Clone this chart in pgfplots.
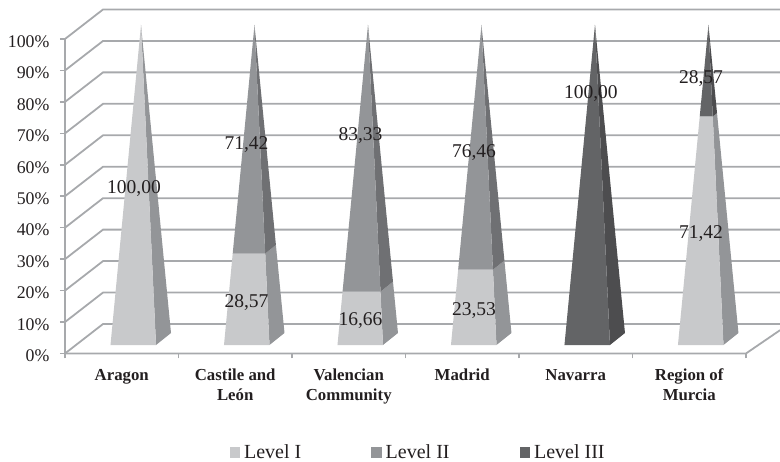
\documentclass[border=0pt]{standalone}
\usepackage{fontspec}
\setmainfont{Liberation Serif}
\usepackage{pgfplots}
\pgfplotsset{compat=1.18}

\definecolor{gridc}{HTML}{A7A9AC}
\definecolor{txt}{HTML}{231F20}
\definecolor{lOne}{HTML}{C8C9CB}
\definecolor{lOneS}{HTML}{939598}
\definecolor{lTwo}{HTML}{939598}
\definecolor{lTwoS}{HTML}{6F7073}
\definecolor{lThree}{HTML}{636466}
\definecolor{lThreeS}{HTML}{4D4D4F}

% one slice of a pyramid: category band, from %, to %, front colour, side colour
\newcommand{\pyr}[5]{%
  \pgfmathsetmacro\apx{#1+0.6696}%
  \pgfmathsetmacro\sLo{1-#2/100}%
  \pgfmathsetmacro\sHi{1-#3/100}%
  \pgfmathsetmacro\flLo{\apx-0.2687*\sLo}%
  \pgfmathsetmacro\flHi{\apx-0.2687*\sHi}%
  \pgfmathsetmacro\frLo{\apx+0.1322*\sLo}%
  \pgfmathsetmacro\frHi{\apx+0.1322*\sHi}%
  \pgfmathsetmacro\brLo{\apx+0.2644*\sLo}%
  \pgfmathsetmacro\brHi{\apx+0.2644*\sHi}%
  \pgfmathsetmacro\yLo{2.70+1.0175*#2}%
  \pgfmathsetmacro\yHi{2.70+1.0175*#3}%
  \pgfmathsetmacro\ybLo{\yLo+3.816*\sLo}%
  \pgfmathsetmacro\ybHi{\yHi+3.816*\sHi}%
  \addplot[fill=#5,draw=none,forget plot] coordinates {(\frLo,\yLo) (\brLo,\ybLo) (\brHi,\ybHi) (\frHi,\yHi)};
  \addplot[fill=#4,draw=none,forget plot] coordinates {(\flLo,\yLo) (\frLo,\yLo) (\frHi,\yHi) (\flHi,\yHi)};
}

\begin{document}
\begin{tikzpicture}[x=1pt,y=1pt]
\useasboundingbox (0,0) rectangle (780,462);
\begin{axis}[
  at={(65pt,108.5pt)}, anchor=south west,
  scale only axis, width=715pt, height=345.95pt,
  xmin=0, xmax=6.3, ymin=0, ymax=110,
  clip=false,
  axis line style={draw=none},
  tick align=outside,
  xtick pos=bottom, ytick pos=left,
  xtick={0.5,1.5,2.5,3.5,4.5,5.5},
  xticklabels={Aragon,Castile and\\León,Valencian\\Community,Madrid,Navarra,Region of\\Murcia},
  minor xtick={0,1,2,3,4,5,6},
  major x tick style={draw=none},
  minor tick length=5pt,
  minor x tick style={gridc,line width=1.6pt},
  ytick={0,10,...,100},
  yticklabels={0\%,10\%,20\%,30\%,40\%,50\%,60\%,70\%,80\%,90\%,100\%},
  major tick length=5pt,
  y tick style={gridc,line width=1.6pt},
  yticklabel style={font=\fontsize{17.8}{20}\selectfont,text=txt,xshift=-7pt,yshift=-2.5pt},
  xticklabel style={font=\fontsize{16.8}{19.7}\selectfont\bfseries,text=txt,align=center,anchor=north,yshift=-7pt},
  legend style={at={(0.4938,-0.2865)},anchor=center,draw=none,fill=none,
    font=\fontsize{20}{22}\selectfont,text=txt,inner sep=0pt,
    /tikz/every even column/.append style={column sep=68pt}},
  legend columns=3,
  legend image code/.code={\fill[#1] (0pt,-5.5pt) rectangle (10.5pt,5.5pt); \path (12.5pt,0pt);},
]
\addlegendimage{fill=lOne,draw=none}
\addlegendimage{fill=lTwo,draw=none}
\addlegendimage{fill=lThree,draw=none}

% walls
\pgfplotsinvokeforeach{0,10,...,100}{
  \pgfmathsetmacro\bk{#1+9.38}
  \addplot[gridc,line width=1.8pt,forget plot] coordinates {(0,#1) (0.335,\bk) (6.3,\bk)};
}
\addplot[gridc,line width=1.8pt,forget plot] coordinates {(0,100) (0,0) (6,0) (6.3,7.4)};

% Aragon
\pyr{0}{0}{100}{lOne}{lOneS}
% Castile and Leon
\pyr{1}{0}{28.57}{lOne}{lOneS}
\pyr{1}{28.57}{100}{lTwo}{lTwoS}
% Valencian Community
\pyr{2}{0}{16.66}{lOne}{lOneS}
\pyr{2}{16.66}{100}{lTwo}{lTwoS}
% Madrid
\pyr{3}{0}{23.53}{lOne}{lOneS}
\pyr{3}{23.53}{100}{lTwo}{lTwoS}
% Navarra
\pyr{4}{0}{100}{lThree}{lThreeS}
% Region of Murcia
\pyr{5}{0}{71.42}{lOne}{lOneS}
\pyr{5}{71.42}{100}{lThree}{lThreeS}

% data labels
\addplot[draw=none,forget plot,nodes near coords,point meta=explicit symbolic,
  nodes near coords style={anchor=center,inner sep=0pt,yshift=-1pt,text=txt,font=\fontsize{19.5}{22}\selectfont}]
  table[meta=lab] {
  x y lab
  0.608 52.9 100,00
  1.599 66.9 71,42
  1.599 16.4 28,57
  2.604 69.5 83,33
  2.604 10.65 16,66
  3.604 64.1 76,46
  3.604 14.1 23,53
  4.634 83.1 100,00
  5.604 87.9 28,57
  5.604 38.3 71,42
};
\legend{Level I,Level II,Level III}
\end{axis}
\end{tikzpicture}
\end{document}
